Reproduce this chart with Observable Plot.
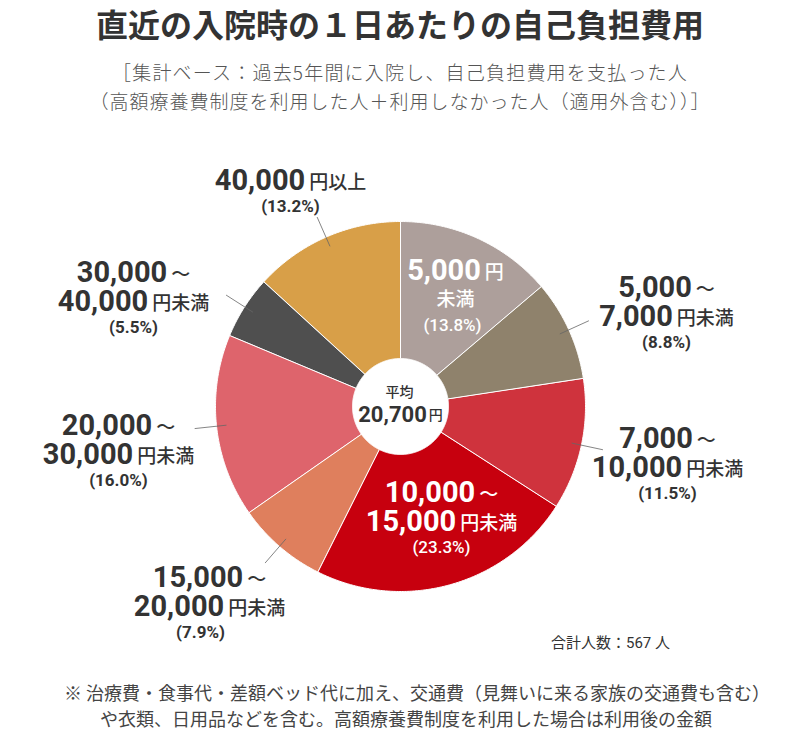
<!DOCTYPE html>
<html><head><meta charset="utf-8">
<script src="https://cdn.jsdelivr.net/npm/d3@7"></script>
<script src="https://cdn.jsdelivr.net/npm/@observablehq/plot@0.6"></script>
<style>
body{margin:0;background:#fff;font-family:"Noto Sans CJK JP",sans-serif;color:#333}
#wrap{position:relative;width:800px;height:740px;overflow:hidden}
.t{position:absolute;left:0;width:800px;text-align:center;white-space:nowrap}
#chart{position:absolute;left:0;top:115px}
.fn{position:absolute;left:64px;white-space:nowrap;font-size:18px;color:#444;line-height:26px}
</style></head><body><div id="wrap">
<div class="t" style="top:2px;font-size:32px;font-weight:700;line-height:42px;color:#333">直近の入院時の１日あたりの自己負担費用</div>
<div class="t" style="top:58px;font-size:19px;font-weight:300;letter-spacing:1.2px;line-height:28px;color:#555">［集計ベース：過去5年間に入院し、自己負担費用を支払った人</div>
<div class="t" style="top:87px;font-size:19px;font-weight:300;letter-spacing:1px;line-height:28px;color:#555">（高額療養費制度を利用した人＋利用しなかった人（適用外含む））］</div>
<div id="chart"></div>
<div class="fn" style="top:679px">※ 治療費・食事代・差額ベッド代に加え、交通費（見舞いに来る家族の交通費も含む）</div>
<div class="fn" style="top:705px;left:100px">や衣類、日用品などを含む。高額療養費制度を利用した場合は利用後の金額</div>
</div>
<script>
// ---- data ----
const categories = ["5,000円未満","5,000～7,000円未満","7,000～10,000円未満","10,000～15,000円未満","15,000～20,000円未満","20,000～30,000円未満","30,000～40,000円未満","40,000円以上"];
const shares = [13.8, 8.8, 11.5, 23.3, 7.9, 16.0, 5.5, 13.2];
const colors = ["#ad9f9b","#8f826c","#cf333d","#c7000e","#df7f5d","#de646c","#4f4f4f","#d89f48"];
const labelLines = [
  [["5,000","円"],["","未満"]],
  [["5,000","～"],["7,000","円未満"]],
  [["7,000","～"],["10,000","円未満"]],
  [["10,000","～"],["15,000","円未満"]],
  [["15,000","～"],["20,000","円未満"]],
  [["20,000","～"],["30,000","円未満"]],
  [["30,000","～"],["40,000","円未満"]],
  [["40,000","円以上"]]
];
const insideLabel = [true,false,false,true,false,false,false,false];
const averageLabel = "平均";
const averageValue = "20,700";
const totalLabel = "合計人数：567 人";

// ---- layout ----
const W = 800, H = 555, topY = 115;
const cx = 400, cy = 406, R = 185, r0 = 48;
const labelAnchor = [[55,-136],[266,-119],[267,32],[41,86],[-191,171],[-282,19],[-267,-134],[-110,-226]];
const pctShift = [-3,0,0,0,-9,0,0,0];
const dark = "#333";

const pie = d3.pie().sort(null).startAngle(0).endAngle(2*Math.PI)(shares);
const pt = (a, r) => [cx + r*Math.sin(a), cy - r*Math.cos(a)];

// slice polygons
const poly = [];
pie.forEach((p, i) => {
  const n = Math.max(4, Math.ceil((p.endAngle - p.startAngle) / (Math.PI/360)));
  for (let k = 0; k <= n; k++) {
    const a = p.startAngle + (p.endAngle - p.startAngle) * k / n;
    const [x, y] = pt(a, R); poly.push({cat: categories[i], x, y});
  }
  for (let k = n; k >= 0; k--) {
    const a = p.startAngle + (p.endAngle - p.startAngle) * k / n;
    const [x, y] = pt(a, r0); poly.push({cat: categories[i], x, y});
  }
});

// leader lines
const leaders = pie.map((p, i) => {
  const a = (p.startAngle + p.endAngle) / 2;
  const [x1, y1] = pt(a, 175), [x2, y2] = pt(a, 207);
  return {x1, y1, x2, y2, inside: insideLabel[i]};
}).filter(d => !d.inside);

// text measurement
const ctx = document.createElement("canvas").getContext("2d");
const NUMF = {size: 29, weight: 700, family: "Roboto, 'Noto Sans CJK JP', sans-serif"};
const SUFF = {size: 19, weight: 500, family: "'Noto Sans CJK JP', sans-serif"};
const PCTF = {size: 17, weight: 700, family: "Roboto, 'Noto Sans CJK JP', sans-serif"};
const measure = (t, f) => { ctx.font = `${f.weight} ${f.size}px ${f.family}`; return t ? ctx.measureText(t).width : 0; };

const nums = [], sufs = [], pcts = [];
labelLines.forEach((lines, i) => {
  const lx = cx + labelAnchor[i][0];
  let y = cy + labelAnchor[i][1];
  const fill = insideLabel[i] ? "#fff" : dark;
  lines.forEach((ln, j) => {
    const [num, suf] = ln;
    const nw = measure(num, NUMF), sw = measure(suf, SUFF), gap = num && suf ? 4 : 0;
    const start = lx - (nw + gap + sw) / 2;
    if (num) nums.push({x: start, y, text: num, fill});
    if (suf) sufs.push({x: start + nw + gap, y: y + (num ? 2 : 0), text: suf, fill});
    if (j < lines.length - 1) y += 29;
  });
  y += 26;
  pcts.push({x: lx + pctShift[i], y, text: "(" + shares[i].toFixed(1) + "%)", fill});
});

// centre text
const avW = measure(averageValue, {size: 22, weight: 700, family: NUMF.family});
const yenW = 14;
const avStart = 400 - (avW + 2 + yenW) / 2;

const textMarks = [];
for (const fill of ["#fff", dark]) {
  textMarks.push(Plot.text(nums.filter(d => d.fill === fill), {x: "x", y: "y", text: "text", textAnchor: "start", lineAnchor: "middle", fill, fontSize: NUMF.size, fontWeight: 700, fontFamily: NUMF.family}));
  textMarks.push(Plot.text(sufs.filter(d => d.fill === fill), {x: "x", y: "y", text: "text", textAnchor: "start", lineAnchor: "middle", fill, fontSize: SUFF.size, fontWeight: 500, fontFamily: SUFF.family}));
  textMarks.push(Plot.text(pcts.filter(d => d.fill === fill), {x: "x", y: "y", text: "text", textAnchor: "middle", lineAnchor: "middle", fill, fontSize: PCTF.size, fontWeight: fill === "#fff" ? 500 : 700, fontFamily: PCTF.family, style: "letter-spacing:0.6px"}));
}

const chart = Plot.plot({
  width: W, height: H,
  margin: 0,
  x: {domain: [0, W], range: [0, W], axis: null},
  y: {domain: [topY, topY + H], range: [0, H], axis: null},
  color: {domain: categories, range: colors},
  style: {background: "transparent"},
  marks: [
    Plot.line(poly, {x: "x", y: "y", z: "cat", fill: "cat", stroke: "#fff", strokeWidth: 1, curve: "linear-closed"}),
    Plot.link(leaders, {x1: "x1", y1: "y1", x2: "x2", y2: "y2", stroke: "#666", strokeWidth: 0.8}),
    ...textMarks,
    Plot.text([averageLabel], {x: () => cx - 1, y: () => cy - 14, text: d => d, fontSize: 14, fontWeight: 500, fill: dark, fontFamily: SUFF.family, lineAnchor: "middle"}),
    Plot.text([averageValue], {x: () => avStart, y: () => cy + 8, text: d => d, textAnchor: "start", fontSize: 22, fontWeight: 700, fill: dark, fontFamily: NUMF.family, lineAnchor: "middle"}),
    Plot.text(["円"], {x: () => avStart + avW + 2, y: () => cy + 9, text: d => d, textAnchor: "start", fontSize: 14, fontWeight: 500, fill: dark, fontFamily: SUFF.family, lineAnchor: "middle"}),
    Plot.text([totalLabel], {x: () => 610, y: () => 643, text: d => d, fontSize: 15, fill: dark, fontFamily: "Roboto, 'Noto Sans CJK JP', sans-serif", lineAnchor: "middle"})
  ]
});
document.getElementById("chart").appendChild(chart);
</script>
</body></html>
